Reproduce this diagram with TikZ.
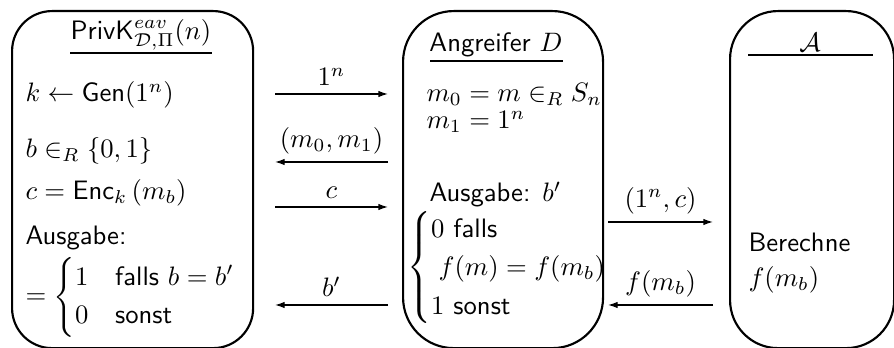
\documentclass[tikz,border=0pt]{standalone}
\usepackage{amsmath}
\usetikzlibrary{arrows.meta}
\begin{document}
\begin{tikzpicture}[x=0.375pt,y=-0.375pt,
  box/.style={draw, line width=0.8pt, inner sep=0pt, anchor=north west},
  txt/.style={inner sep=0pt, anchor=base west, font=\sffamily},
  ttl/.style={inner sep=0pt, anchor=base, font=\sffamily},
  rule/.style={line width=0.5pt},
  msg/.style={line width=0.45pt, -{Latex[length=3.6pt,width=2.4pt]}},
  lab/.style={above, inner sep=2.8pt, font=\sffamily}]
\useasboundingbox (0,0) rectangle (894,348);
% boxes
\node[box, rounded corners=15pt, minimum width=90.4pt, minimum height=126.4pt] (P) at (11,10) {};
\node[box, rounded corners=19pt, minimum width=75pt, minimum height=126.4pt] (D) at (402,10) {};
\node[box, rounded corners=18pt, minimum width=61.5pt, minimum height=126.4pt] (A) at (729,10) {};
% left box
\node[ttl] (t1) at (141,40) {$\mathsf{PrivK}^{eav}_{\mathcal{D},\Pi}(n)$};
\draw[rule] (70,53) -- (212,53);
\node[txt] (l1) at (25,102) {$k \leftarrow \mathsf{Gen}(1^n)$};
\node[txt] (l2) at (25,158) {$b \in_R \{0,1\}$};
\node[txt] (l3) at (25,200) {$c = \mathsf{Enc}_k\left(m_b\right)$};
\node[txt] (l4) at (25,245) {Ausgabe:};
\node[txt, anchor=west] (l5) at (25,297) {\renewcommand{\arraystretch}{1.1}$=\begin{cases}1 & \text{falls } b=b'\\ 0 & \text{sonst}\end{cases}$};
% middle box
\node[ttl] (t2) at (496,52) {Angreifer $D$};
\draw[rule] (430,61) -- (563,61);
\node[txt] (m1) at (426,102) {$m_0 = m \in_R S_n$};
\node[txt] (m2) at (426,129) {$m_1 = 1^n$};
\node[txt] (m3) at (429,202) {Ausgabe: $b'$};
\node[txt, anchor=west] (m4) at (407,268) {$\begin{cases}0\text{ falls}\\ \;f(m)=f(m_b)\\ 1\text{ sonst}\end{cases}$};
% right box
\node[ttl] (t3) at (810,52) {$\mathcal{A}$};
\draw[rule] (748,55) -- (873,55);
\node[txt] (r1) at (748,252) {Berechne};
\node[txt] (r2) at (748,287) {$f(m_b)$};
% message coordinates
\coordinate (a1l) at (275,94);  \coordinate (a1r) at (388,94);
\coordinate (a2l) at (275,162); \coordinate (a2r) at (388,162);
\coordinate (a3l) at (275,207); \coordinate (a3r) at (388,207);
\coordinate (a4l) at (275,305); \coordinate (a4r) at (388,305);
\coordinate (a5l) at (608,222); \coordinate (a5r) at (713,222);
\coordinate (a6l) at (608,305); \coordinate (a6r) at (713,305);
\draw[msg] (a1l) -- node[lab] {$1^n$} (a1r);
\draw[msg] (a2r) -- node[lab] {$(m_0,m_1)$} (a2l);
\draw[msg] (a3l) -- node[lab] {$c$} (a3r);
\draw[msg] (a4r) -- node[lab] {$b'$} (a4l);
\draw[msg] (a5l) -- node[lab] {$(1^n,c)$} (a5r);
\draw[msg] (a6r) -- node[lab] {$f(m_b)$} (a6l);
\end{tikzpicture}
\end{document}
